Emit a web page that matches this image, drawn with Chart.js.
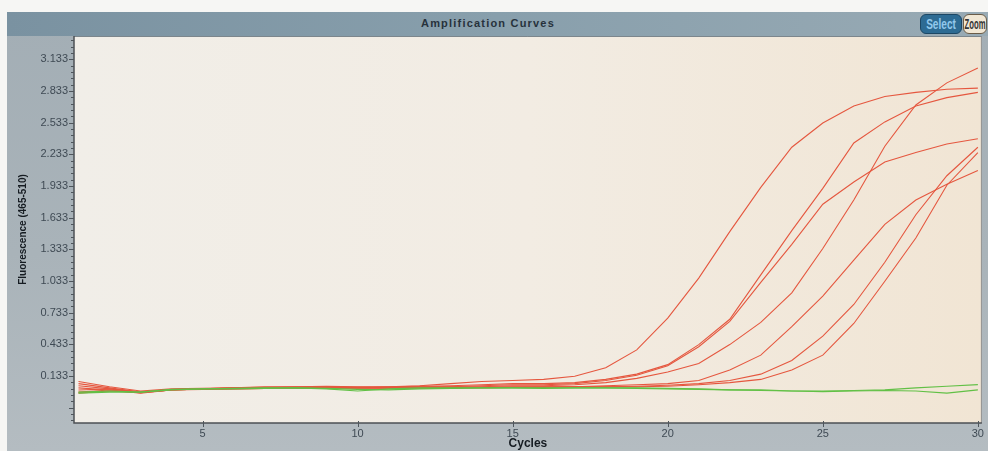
<!DOCTYPE html>
<html><head><meta charset="utf-8">
<script src="https://cdn.jsdelivr.net/npm/chart.js@4.4.1/dist/chart.umd.min.js"></script>
<style>
html,body{margin:0;padding:0;background:#f6f6f4;width:988px;height:451px;overflow:hidden;position:relative;}
#panel{position:absolute;left:7px;top:12px;width:981px;height:439px;background:linear-gradient(180deg,#a3aeb5 0%,#a9b3b9 55%,#b4bcc1 100%);}
#titlebar{position:absolute;left:7px;top:12px;width:981px;height:24px;background:linear-gradient(90deg,#7a92a1 0%,#889fac 50%,#98aab4 100%);}
#title{position:absolute;left:488px;top:17px;transform:translateX(-50%);font:bold 11px 'Liberation Sans',Arial,sans-serif;letter-spacing:1.2px;color:#27323c;white-space:nowrap;}
.btn{position:absolute;top:14px;height:20px;border-radius:6px;box-sizing:border-box;overflow:hidden;}
.btn span{position:absolute;left:50%;top:50%;transform:translate(-50%,-50%) scaleX(0.72);font:bold 14px 'Liberation Sans',Arial,sans-serif;white-space:nowrap;}
#sel{left:920px;width:42px;background:#2d6b93;border:1px solid #1c4764;color:#92c8ec;}
#zoom{left:963px;width:24px;background:#f1e7d4;border:1px solid #6a5c48;color:#353535;}
#zoom span{transform:translate(-50%,-50%) scaleX(0.55);}
canvas{position:absolute;left:0;top:0;}
</style></head>
<body>
<div id="panel"></div>
<div id="titlebar"></div>
<div id="title">Amplification Curves</div>
<div class="btn" id="sel"><span>Select</span></div>
<div class="btn" id="zoom"><span>Zoom</span></div>
<canvas id="c" width="988" height="451"></canvas>
<script>
// ---- data ----
const cycles = [1,2,3,4,5,6,7,8,9,10,11,12,13,14,15,16,17,18,19,20,21,22,23,24,25,26,27,28,29,30];
const sampleA = [0.08,0.03,-0.01,0.01,0.015,0.02,0.03,0.03,0.035,0.03,0.03,0.04,0.06,0.08,0.09,0.10,0.13,0.21,0.38,0.68,1.06,1.50,1.92,2.30,2.53,2.69,2.78,2.82,2.85,2.86];
const sampleB = [0.06,0.02,-0.02,0.005,0.01,0.02,0.025,0.03,0.03,0.025,0.03,0.035,0.04,0.05,0.06,0.06,0.07,0.10,0.15,0.24,0.43,0.67,1.09,1.51,1.91,2.34,2.54,2.69,2.77,2.82];
const sampleC = [0.04,0.01,-0.02,0.0,0.01,0.015,0.02,0.025,0.02,0.02,0.025,0.03,0.03,0.04,0.05,0.05,0.06,0.09,0.14,0.23,0.41,0.65,1.02,1.38,1.76,1.97,2.16,2.25,2.33,2.38];
const sampleD = [0.02,0.0,-0.025,0.0,0.01,0.02,0.02,0.02,0.03,0.02,0.02,0.03,0.03,0.03,0.04,0.04,0.05,0.07,0.11,0.17,0.25,0.43,0.64,0.92,1.34,1.80,2.31,2.70,2.91,3.05];
const sampleE = [0.0,0.01,-0.02,0.005,0.01,0.015,0.02,0.02,0.02,0.025,0.02,0.025,0.02,0.025,0.03,0.03,0.03,0.04,0.05,0.06,0.09,0.19,0.33,0.60,0.89,1.23,1.57,1.80,1.95,2.08];
const sampleF = [-0.02,0.0,-0.03,0.0,0.01,0.01,0.015,0.02,0.02,0.02,0.02,0.02,0.025,0.02,0.025,0.03,0.03,0.03,0.035,0.045,0.06,0.09,0.15,0.28,0.51,0.81,1.21,1.66,2.03,2.30];
const sampleG = [-0.03,-0.01,-0.025,0.0,0.005,0.01,0.015,0.02,0.015,0.02,0.02,0.02,0.02,0.025,0.025,0.025,0.03,0.03,0.03,0.035,0.05,0.07,0.10,0.19,0.33,0.63,1.03,1.44,1.94,2.25];
const negative1 = [-0.03,-0.02,-0.02,0.0,0.01,0.015,0.02,0.02,0.01,-0.01,0.01,0.02,0.02,0.02,0.02,0.02,0.02,0.02,0.015,0.01,0.005,0.0,0.0,-0.01,-0.01,-0.005,0.0,0.02,0.035,0.05];
const negative2 = [-0.02,-0.01,-0.02,0.005,0.01,0.01,0.015,0.02,0.015,0.005,0.0,0.01,0.015,0.02,0.02,0.015,0.02,0.02,0.02,0.015,0.01,0.0,-0.005,-0.01,-0.015,-0.01,-0.005,-0.01,-0.03,0.0];
const positives = [sampleA,sampleB,sampleC,sampleD,sampleE,sampleF,sampleG];
const negatives = [negative1,negative2];
const yTickValues = [0.133,0.433,0.733,1.033,1.333,1.633,1.933,2.233,2.533,2.833,3.133];
const yTickLabels = ['0.133','0.433','0.733','1.033','1.333','1.633','1.933','2.233','2.533','2.833','3.133'];
const yMinorStep = 0.06;
const xTickValues = [5,10,15,20,25,30];
const xTickLabels = ['5','10','15','20','25','30'];

const RED = '#e5573f', GREEN = '#62c046';
const toPts = arr => arr.map((v,i)=>({x:cycles[i], y:v}));
const datasets = [];
negatives.forEach(s=>datasets.push({data:toPts(s),borderColor:GREEN,borderWidth:1.2,pointRadius:0,tension:0}));
positives.forEach(s=>datasets.push({data:toPts(s),borderColor:RED,borderWidth:1.1,pointRadius:0,tension:0}));

const tickFont = {family:"'Liberation Sans',Arial,sans-serif", size:11};

const framePlugin = {
  id:'frame',
  beforeDatasetsDraw(chart){
    const {ctx, chartArea:a} = chart;
    const g = ctx.createLinearGradient(a.left,0,a.right,0);
    g.addColorStop(0,'#f1eee8'); g.addColorStop(0.5,'#f2ece3'); g.addColorStop(1,'#f1e5d4');
    ctx.save(); ctx.fillStyle=g; ctx.fillRect(a.left,a.top,a.right-a.left,a.bottom-a.top); ctx.restore();
  },
  afterDraw(chart){
    const {ctx, chartArea:a, scales:{x,y}} = chart;
    ctx.save();
    ctx.lineWidth=1;
    ctx.strokeStyle='#7c868c';
    ctx.beginPath(); ctx.moveTo(a.left,a.top+0.5); ctx.lineTo(a.right,a.top+0.5); ctx.stroke();
    ctx.strokeStyle='#8d8f90';
    ctx.beginPath(); ctx.moveTo(a.right-0.5,a.top); ctx.lineTo(a.right-0.5,a.bottom); ctx.stroke();
    ctx.strokeStyle='#4c5054'; ctx.lineWidth=1.5;
    ctx.beginPath(); ctx.moveTo(a.left,a.top); ctx.lineTo(a.left,a.bottom); ctx.lineTo(a.right,a.bottom); ctx.stroke();
    ctx.lineWidth=1; ctx.strokeStyle='#4f565c';
    const first = yTickValues[0];
    for (let k=-10;k<=60;k++){
      const v = first + k*yMinorStep;
      if (v < y.min || v > y.max) continue;
      const py = Math.round(y.getPixelForValue(v))+0.5;
      const len = (k%5===0) ? 5 : 3;
      ctx.beginPath(); ctx.moveTo(a.left-len,py); ctx.lineTo(a.left,py); ctx.stroke();
    }
    xTickValues.forEach(v=>{
      const px = Math.round(x.getPixelForValue(v))+0.5;
      ctx.beginPath(); ctx.moveTo(px,a.bottom-2); ctx.lineTo(px,a.bottom+4); ctx.stroke();
    });
    ctx.restore();
  }
};

new Chart(document.getElementById('c'), {
  type:'line',
  data:{datasets},
  options:{
    responsive:false, animation:false, devicePixelRatio:1,
    layout:{padding:{top:36,right:4.5,left:0,bottom:0}},
    plugins:{legend:{display:false}, tooltip:{enabled:false}},
    scales:{
      x:{type:'linear', min:0.855, max:30.13,
        afterBuildTicks:s=>{s.ticks = xTickValues.map(v=>({value:v}));},
        afterFit:s=>{s.height=28;},
        ticks:{autoSkip:false, maxRotation:0, padding:4, font:tickFont, color:'#3f4a54',
          callback:(v)=>xTickLabels[xTickValues.indexOf(v)]},
        grid:{display:false, drawTicks:false}, border:{display:false},
        title:{display:true, text:'Cycles', color:'#161c22', padding:{top:0,bottom:0},
          font:{family:"'Liberation Sans',Arial,sans-serif", size:12, weight:'bold'}}
      },
      y:{type:'linear', min:-0.313, max:3.354,
        afterBuildTicks:s=>{s.ticks = yTickValues.map(v=>({value:v}));},
        afterFit:s=>{s.width=74;},
        ticks:{autoSkip:false, padding:6, font:tickFont, color:'#3f4a54',
          callback:(v)=>yTickLabels[yTickValues.indexOf(v)]},
        grid:{display:false, drawTicks:false}, border:{display:false},
        title:{display:true, text:'Fluorescence (465-510)', color:'#161c22', padding:{top:17,bottom:0},
          font:{family:"'Liberation Sans',Arial,sans-serif", size:10, weight:'bold'}}
      }
    }
  },
  plugins:[framePlugin]
});
</script>
</body></html>
